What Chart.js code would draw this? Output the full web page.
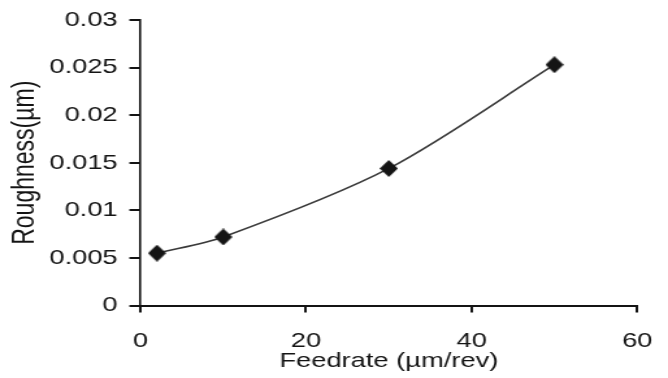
<!DOCTYPE html>
<html>
<head>
<meta charset="utf-8">
<script src="https://cdn.jsdelivr.net/npm/chart.js@4/dist/chart.umd.min.js"></script>
<style>
  html, body { margin: 0; padding: 0; background: #fff; overflow: hidden; width: 668px; height: 378px; }
  #wrap { width: 520px; height: 378px; transform: scaleX(1.2996); transform-origin: 0 0; }
  canvas { display: block; }
</style>
</head>
<body>
<div id="wrap"><canvas id="c" width="520" height="378"></canvas></div>
<script>
const feedrate = [2, 10, 30, 50];
const roughness = [0.0055, 0.0072, 0.0144, 0.0253];
const xTickLabels = ['0', '20', '40', '60'];
const yTickLabels = ['0', '0.005', '0.01', '0.015', '0.02', '0.025', '0.03'];
const xTitle = 'Feedrate (\u00b5m/rev)';
const yTitle = 'Roughness(\u00b5m)';

// diamond marker (narrower horizontally to compensate the horizontal stretch)
const marker = document.createElement('canvas');
marker.width = 14; marker.height = 17;
(function () {
  const g = marker.getContext('2d');
  g.fillStyle = '#141414';
  g.beginPath();
  g.moveTo(7, 0); g.lineTo(14, 8.5); g.lineTo(7, 17); g.lineTo(0, 8.5);
  g.closePath(); g.fill();
})();

const FAMILY = '"Liberation Sans", Arial, sans-serif';
const TICK_FONT = { family: FAMILY, size: 21, lineHeight: 1 };
const XT_FONT = { family: FAMILY, size: 21, lineHeight: 1 };
const YT_FONT = { family: FAMILY, size: 23, lineHeight: 1 };
const INK = '#141414';

new Chart(document.getElementById('c'), {
  type: 'scatter',
  data: {
    datasets: [{
      data: feedrate.map((x, i) => ({ x: x, y: roughness[i] })),
      showLine: true,
      tension: 0.3,
      borderColor: '#3a3a3a',
      borderWidth: 1.6,
      pointStyle: marker,
      pointRadius: 8,
      pointHoverRadius: 8,
      backgroundColor: '#141414'
    }]
  },
  options: {
    responsive: false,
    animation: false,
    devicePixelRatio: 1,
    layout: { autoPadding: false, padding: { top: 20, right: 19, bottom: 4, left: 0 } },
    plugins: { legend: { display: false }, tooltip: { enabled: false } },
    scales: {
      x: {
        type: 'linear',
        min: 0, max: 60,
        afterBuildTicks: (s) => { s.ticks = xTickLabels.map(v => ({ value: Number(v) })); },
        ticks: {
          callback: (v) => xTickLabels.find(t => Number(t) === v) ?? '',
          color: INK, font: TICK_FONT, padding: 18, maxRotation: 0
        },
        grid: { drawOnChartArea: false, drawTicks: true, tickLength: 7, color: INK, lineWidth: 2 },
        border: { display: true, color: INK, width: 2 },
        title: { display: true, text: xTitle, color: INK, font: XT_FONT, padding: { top: -18.5, bottom: 2 } }
      },
      y: {
        type: 'linear',
        min: 0, max: 0.03,
        afterBuildTicks: (s) => { s.ticks = yTickLabels.map(v => ({ value: Number(v) })); },
        ticks: {
          callback: (v) => yTickLabels.find(t => Math.abs(Number(t) - v) < 1e-9) ?? '',
          color: INK, font: TICK_FONT, padding: 9
        },
        grid: { drawOnChartArea: false, drawTicks: true, tickLength: 8.5, color: INK, lineWidth: 2 },
        border: { display: true, color: INK, width: 1.6 },
        title: { display: true, text: yTitle, color: INK, font: YT_FONT, padding: { top: 8.5, bottom: -2.5 } }
      }
    }
  }
});
</script>
</body>
</html>
